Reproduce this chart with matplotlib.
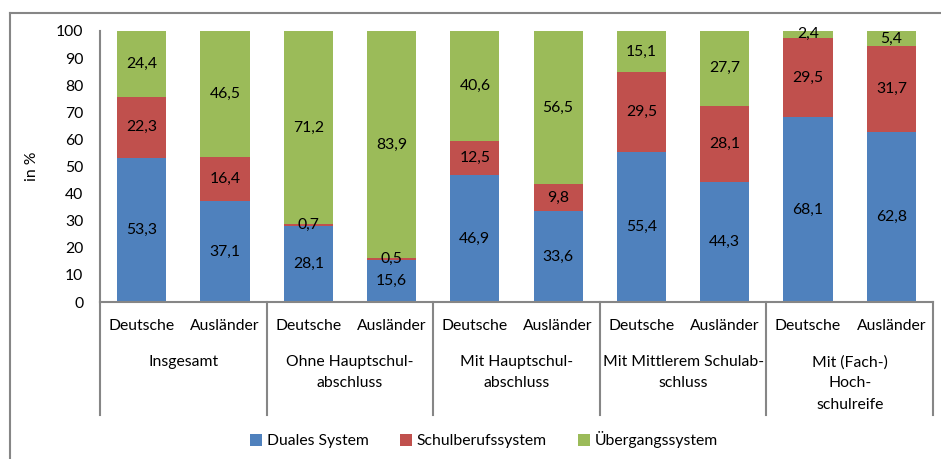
import matplotlib
matplotlib.use("Agg")
import matplotlib.pyplot as plt
from matplotlib.lines import Line2D
from matplotlib.patches import Patch

plt.rcParams['font.family'] = ['Lato', 'DejaVu Sans']

subgroups = ["Deutsche", "Ausländer"] * 5
groups = ["Insgesamt", "Ohne Hauptschul-\nabschluss", "Mit Hauptschul-\nabschluss",
          "Mit Mittlerem Schulab-\nschluss", "Mit (Fach-)\nHoch-\nschulreife"]
series_names = ["Duales System", "Schulberufssystem", "Übergangssystem"]
duales = [53.3, 37.1, 28.1, 15.6, 46.9, 33.6, 55.4, 44.3, 68.1, 62.8]
schulberuf = [22.3, 16.4, 0.7, 0.5, 12.5, 9.8, 29.5, 28.1, 29.5, 31.7]
uebergang = [24.4, 46.5, 71.2, 83.9, 40.6, 56.5, 15.1, 27.7, 2.4, 5.4]
yticks = [0, 10, 20, 30, 40, 50, 60, 70, 80, 90, 100]
colors = ["#4F81BD", "#C0504D", "#9BBB59"]

W, H = 941, 459
fig = plt.figure(figsize=(W / 100, H / 100), dpi=100)
ax = fig.add_axes([100 / W, (H - 302) / H, 833 / W, 271 / H])

x = list(range(len(subgroups)))
fs = 11.3
bottom = [0] * len(x)
for vals, c in zip([duales, schulberuf, uebergang], colors):
    ax.bar(x, vals, bottom=bottom, width=0.59, color=c, linewidth=0)
    for xi, b, v in zip(x, bottom, vals):
        ax.text(xi, b + v / 2, f"{v:.1f}".replace(".", ","), ha="center", va="center",
                fontsize=fs, color="black")
    bottom = [b + v for b, v in zip(bottom, vals)]

ax.set_xlim(-0.5, len(x) - 0.5)
ax.set_ylim(0, 100)
ax.set_yticks(yticks)
ax.set_yticklabels([str(t) for t in yticks], fontsize=fs)
ax.tick_params(axis="y", length=0, pad=12)
ax.set_xticks([])
for s in ["top", "right"]:
    ax.spines[s].set_visible(False)
for s in ["left", "bottom"]:
    ax.spines[s].set_color("#868686")
    ax.spines[s].set_linewidth(1.5)
ax.set_ylabel("in %", fontsize=fs, labelpad=12)

trans = ax.get_xaxis_transform()
axh = 271
for xi, lab in zip(x, subgroups):
    ax.text(xi, -24 / axh, lab, transform=trans, ha="center", va="center", fontsize=fs)
for g, lab in enumerate(groups):
    ax.text(2 * g + 0.5, -53 / axh, lab, transform=trans, ha="center", va="top",
            fontsize=fs, linespacing=1.65)
for k in range(6):
    xs = 2 * k - 0.5
    ax.add_line(Line2D([xs, xs], [0, -113 / axh], transform=trans, color="#868686",
                       lw=1.5, clip_on=False))

handles = [Patch(facecolor=c, edgecolor="none") for c in colors]
fig.legend(handles, series_names, loc="center", bbox_to_anchor=(484 / W, 1 - 440 / H),
           ncol=3, frameon=False, fontsize=fs, handlelength=0.75, handleheight=0.75,
           handletextpad=0.3, columnspacing=2.0)

fig.add_artist(Line2D([10 / W, 10 / W], [0, 1 - 13 / H], transform=fig.transFigure,
                      color="#868686", lw=1.5))
fig.add_artist(Line2D([10 / W, 1], [1 - 13 / H, 1 - 13 / H], transform=fig.transFigure,
                      color="#868686", lw=1.5))

fig.savefig("out.png", dpi=100)
